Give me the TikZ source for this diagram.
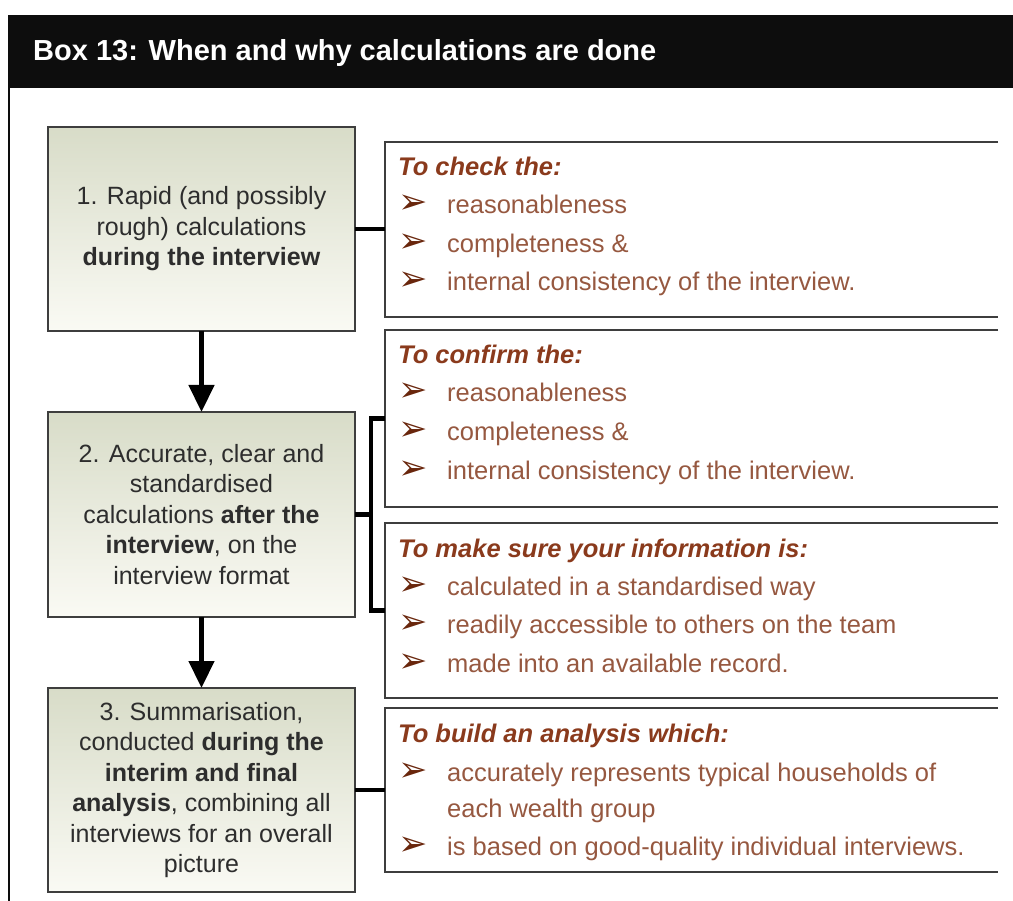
\documentclass[tikz,border=0pt]{standalone}
\usepackage{fontspec}
\setmainfont{Liberation Sans}
\newfontfamily\symbolFont{DejaVu Sans}
\usetikzlibrary{arrows.meta}
\definecolor{headerBlack}{RGB}{13,13,13}
\definecolor{aimRed}{RGB}{138,58,28}
\definecolor{aimText}{RGB}{150,88,64}
\definecolor{aimBullet}{RGB}{105,38,12}
\definecolor{stageTop}{RGB}{216,220,200}
\definecolor{stageBottom}{RGB}{250,250,244}
\definecolor{stageText}{RGB}{45,45,45}
\definecolor{frameLine}{RGB}{62,62,62}
\newcommand{\boxLine}[0]{2.5pt}
\newcommand{\linkWidth}[0]{4.5pt}
\newcommand{\aimArrow}[0]{{\symbolFont\fontsize{35}{35}\selectfont\color{aimBullet}➢}}

\begin{document}
\begin{tikzpicture}[x=1pt, y=-1pt]
  \tikzset{
    stage box/.style={draw=frameLine, line width=\boxLine, top color=stageTop, bottom color=stageBottom,
      minimum width=307pt, minimum height=204pt, inner sep=0pt, outer sep=0pt, align=center,
      text=stageText, font=\fontsize{25}{30.5}\selectfont},
    aim box/.style={minimum width=613pt, inner sep=0pt, outer sep=0pt},
    aim edge/.style={draw=frameLine, line width=\boxLine},
    aim head/.style={anchor=base west, inner sep=0pt, text=aimRed, font=\fontsize{25.5}{30}\selectfont\bfseries\itshape},
    aim item/.style={anchor=base west, inner sep=0pt, text=aimText, font=\fontsize{25.5}{30}\selectfont},
    link/.style={draw=black, line width=\linkWidth}
  }
  \useasboundingbox (0,0) rectangle (1013,901);
  \fill[headerBlack] (8,15) rectangle (1013,88);
  \draw[headerBlack, line width=2.5pt] (9,88) -- (9,901);
  \node[anchor=west, inner sep=0pt, text=white, font=\fontsize{29}{29}\selectfont\bfseries] (title) at (33,53)
    {Box 13: When and why calculations are done};

  \node[stage box] (stage-1) at (201.5,229) {1. Rapid (and possibly\\rough) calculations\\\textbf{during the interview}};
  \node[stage box, minimum height=205pt] (stage-2) at (201.5,514.5) {2. Accurate, clear and\\standardised\\calculations \textbf{after the}\\\textbf{interview}, on the\\interview format};
  \node[stage box] (stage-3) at (201.5,790) {3. Summarisation,\\conducted \textbf{during the}\\\textbf{interim and final}\\\textbf{analysis}, combining all\\interviews for an overall\\picture};

  \draw[link, -{Triangle[length=27pt, width=25pt]}] (stage-1.south) -- (stage-2.north);
  \draw[link, -{Triangle[length=27pt, width=25pt]}] (stage-2.south) -- (stage-3.north);

  \node[aim box, minimum height=175pt] (aim-1) at (691.5,229.5) {};
  \node[aim box, minimum height=177pt] (aim-2) at (691.5,418.5) {};
  \node[aim box, minimum height=175pt] (aim-3) at (691.5,610.5) {};
  \node[aim box, minimum height=164pt] (aim-4) at (691.5,790) {};
  \foreach \n in {1,...,4}
    \draw[aim edge] (aim-\n.north east) -- (aim-\n.north west) -- (aim-\n.south west) -- (aim-\n.south east);

  \node[aim head] (aim-1-head) at ([shift={(13,34)}]aim-1.north west) {To check the:};
  \foreach \txt [count=\i] in {reasonableness, completeness \&, internal consistency of the interview.}
    \node[aim item] (aim-1-\i) at ([shift={(13,33.5+38.5*\i)}]aim-1.north west) {\makebox[49pt][l]{\aimArrow}\txt};

  \node[aim head] (aim-2-head) at ([shift={(13,34)}]aim-2.north west) {To confirm the:};
  \foreach \txt [count=\i] in {reasonableness, completeness \&, internal consistency of the interview.}
    \node[aim item] (aim-2-\i) at ([shift={(13,33.5+38.5*\i)}]aim-2.north west) {\makebox[49pt][l]{\aimArrow}\txt};

  \node[aim head] (aim-3-head) at ([shift={(13,34)}]aim-3.north west) {To make sure your information is:};
  \foreach \txt [count=\i] in {calculated in a standardised way, readily accessible to others on the team, made into an available record.}
    \node[aim item] (aim-3-\i) at ([shift={(13,33.5+38.5*\i)}]aim-3.north west) {\makebox[49pt][l]{\aimArrow}\txt};

  \node[aim head] (aim-4-head) at ([shift={(13,34)}]aim-4.north west) {To build an analysis which:};
  \node[aim item] (aim-4-1) at ([shift={(13,73)}]aim-4.north west) {\makebox[49pt][l]{\aimArrow}accurately represents typical households of};
  \node[aim item] (aim-4-1-wrap) at ([shift={(62,109)}]aim-4.north west) {each wealth group};
  \node[aim item] (aim-4-2) at ([shift={(13,147)}]aim-4.north west) {\makebox[49pt][l]{\aimArrow}is based on good-quality individual interviews.};

  \draw[link] (stage-1.east) -- (stage-1.east -| aim-1.west);
  \draw[link] (stage-2.east) -- ++(16,0) coordinate (fork);
  \draw[link] (aim-2.west) -| (fork) |- (aim-3.west);
  \draw[link] (stage-3.east) -- (stage-3.east -| aim-4.west);
\end{tikzpicture}
\end{document}
